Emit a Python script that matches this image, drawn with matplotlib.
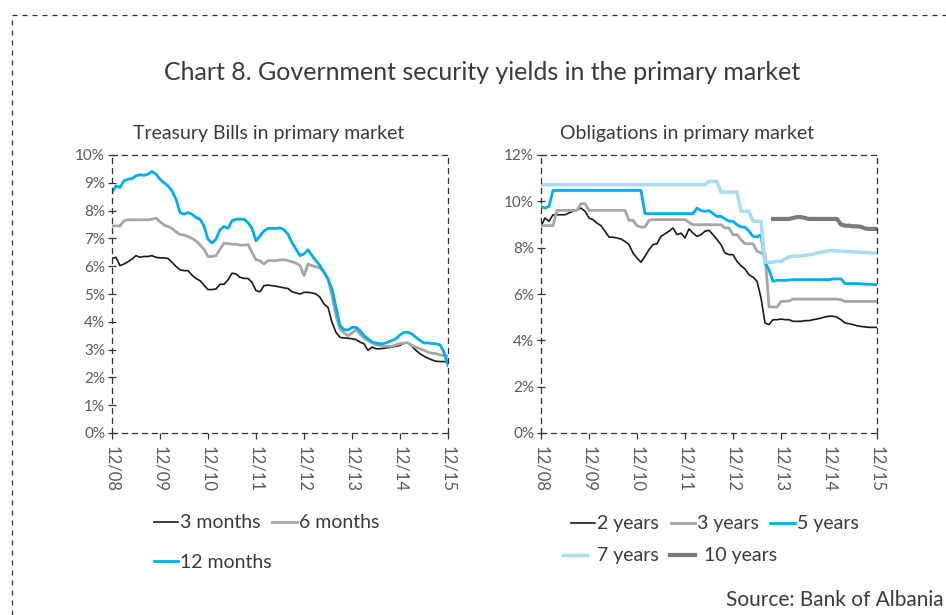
import numpy as np
import matplotlib
matplotlib.use("Agg")
import matplotlib.pyplot as plt
from matplotlib.lines import Line2D

plt.rcParams['font.family'] = ['Lato', 'DejaVu Sans']

# Monthly observations, Dec 2008 .. Dec 2015 (85 months)
tick_labels = ["12/08", "12/09", "12/10", "12/11", "12/12", "12/13", "12/14", "12/15"]

# Treasury bills (%)
tb_3m = [6.28, 6.32, 6.02, 6.08, 6.16, 6.26, 6.38, 6.32, 6.35, 6.35, 6.38, 6.32,
         6.30, 6.30, 6.28, 6.14, 5.99, 5.87, 5.84, 5.84, 5.68, 5.56, 5.48, 5.32,
         5.16, 5.16, 5.18, 5.35, 5.35, 5.51, 5.75, 5.72, 5.60, 5.56, 5.56, 5.42,
         5.12, 5.08, 5.30, 5.32, 5.30, 5.28, 5.25, 5.22, 5.20, 5.08, 5.04, 5.00,
         5.06, 5.06, 5.04, 5.00, 4.88, 4.64, 4.52, 3.98, 3.62, 3.44, 3.42, 3.41,
         3.39, 3.36, 3.27, 3.21, 2.97, 3.09, 3.03, 3.03, 3.05, 3.07, 3.09, 3.12,
         3.15, 3.24, 3.24, 3.12, 2.97, 2.85, 2.76, 2.69, 2.63, 2.58, 2.57, 2.57,
         2.57]
tb_6m = [7.45, 7.45, 7.45, 7.63, 7.67, 7.67, 7.67, 7.67, 7.67, 7.67, 7.69, 7.73,
         7.60, 7.48, 7.43, 7.36, 7.24, 7.14, 7.12, 7.07, 7.00, 6.91, 6.76, 6.61,
         6.35, 6.35, 6.38, 6.61, 6.83, 6.81, 6.79, 6.79, 6.76, 6.76, 6.78, 6.50,
         6.23, 6.20, 6.08, 6.20, 6.20, 6.20, 6.23, 6.23, 6.20, 6.16, 6.11, 6.02,
         5.66, 6.08, 6.02, 5.98, 5.94, 5.80, 5.54, 4.94, 4.22, 3.74, 3.60, 3.50,
         3.60, 3.72, 3.56, 3.41, 3.33, 3.24, 3.17, 3.15, 3.12, 3.12, 3.12, 3.17,
         3.21, 3.24, 3.24, 3.15, 3.09, 3.03, 2.97, 2.91, 2.87, 2.85, 2.81, 2.79,
         2.76]
tb_12m = [8.65, 8.89, 8.83, 9.07, 9.13, 9.15, 9.25, 9.29, 9.27, 9.31, 9.41, 9.31,
          9.13, 9.00, 8.89, 8.71, 8.41, 7.93, 7.87, 7.93, 7.87, 7.75, 7.69, 7.45,
          6.97, 6.83, 6.97, 7.31, 7.43, 7.36, 7.63, 7.69, 7.69, 7.69, 7.57, 7.36,
          6.91, 7.09, 7.27, 7.36, 7.36, 7.36, 7.38, 7.31, 7.15, 6.85, 6.61, 6.38,
          6.44, 6.59, 6.38, 6.20, 6.02, 5.78, 5.54, 5.18, 4.52, 3.86, 3.72, 3.70,
          3.80, 3.80, 3.68, 3.50, 3.39, 3.27, 3.24, 3.21, 3.22, 3.27, 3.33, 3.39,
          3.53, 3.62, 3.62, 3.56, 3.44, 3.33, 3.24, 3.24, 3.22, 3.21, 3.17, 2.91,
          2.43]

# Bonds (%)
nan = np.nan
ob_2y = [8.92, 9.28, 9.14, 9.42, 9.42, 9.42, 9.42, 9.50, 9.57, 9.64, 9.71, 9.57,
         9.28, 9.21, 9.06, 8.95, 8.71, 8.46, 8.45, 8.42, 8.37, 8.27, 8.13, 7.77,
         7.55, 7.37, 7.63, 7.91, 8.13, 8.17, 8.49, 8.60, 8.71, 8.85, 8.56, 8.63,
         8.42, 8.81, 8.63, 8.49, 8.56, 8.71, 8.75, 8.56, 8.35, 8.13, 7.77, 7.70,
         7.70, 7.41, 7.22, 7.08, 6.83, 6.73, 6.55, 5.83, 4.75, 4.68, 4.89, 4.89,
         4.92, 4.89, 4.89, 4.82, 4.82, 4.82, 4.85, 4.85, 4.89, 4.92, 4.96, 5.01,
         5.04, 5.04, 5.00, 4.89, 4.75, 4.72, 4.68, 4.63, 4.60, 4.58, 4.56, 4.56,
         4.56]
ob_3y = [8.95, 8.95, 8.95, 8.95, 9.61, 9.61, 9.61, 9.61, 9.61, 9.61, 9.90, 9.90,
         9.61, 9.61, 9.61, 9.61, 9.61, 9.61, 9.61, 9.61, 9.61, 9.61, 9.18, 9.18,
         8.95, 8.89, 8.89, 9.18, 9.21, 9.21, 9.21, 9.21, 9.21, 9.21, 9.21, 9.21,
         9.21, 9.09, 8.99, 8.99, 8.99, 8.99, 8.99, 8.99, 8.99, 8.99, 8.85, 8.85,
         8.56, 8.56, 8.35, 8.17, 8.17, 8.17, 7.85, 7.77, 7.77, 5.44, 5.44, 5.44,
         5.68, 5.68, 5.70, 5.78, 5.78, 5.78, 5.78, 5.78, 5.78, 5.78, 5.78, 5.78,
         5.78, 5.78, 5.78, 5.75, 5.68, 5.68, 5.68, 5.68, 5.68, 5.68, 5.68, 5.68,
         5.68]
ob_5y = [9.78, 9.71, 9.78, 10.47, 10.47, 10.47, 10.47, 10.47, 10.47, 10.47, 10.47, 10.47,
         10.47, 10.47, 10.47, 10.47, 10.47, 10.47, 10.47, 10.47, 10.47, 10.47, 10.47, 10.47,
         10.47, 10.47, 9.47, 9.47, 9.47, 9.47, 9.47, 9.47, 9.47, 9.47, 9.47, 9.47,
         9.47, 9.47, 9.47, 9.71, 9.60, 9.57, 9.60, 9.47, 9.35, 9.35, 9.24, 9.14,
         9.14, 8.99, 8.89, 8.89, 8.71, 8.49, 8.46, 8.56, 7.34, 7.05, 6.55, 6.59,
         6.59, 6.59, 6.60, 6.62, 6.62, 6.62, 6.62, 6.62, 6.62, 6.62, 6.62, 6.62,
         6.62, 6.65, 6.65, 6.65, 6.45, 6.45, 6.45, 6.45, 6.44, 6.43, 6.42, 6.41,
         6.40]
ob_7y = [10.72] * 42 + [10.86, 10.86, 10.86, 10.40, 10.40, 10.40, 10.40, 10.40,
         9.57, 9.57, 9.57, 9.14, 9.14, 9.14, 7.37, 7.37, 7.37, 7.41, 7.41, 7.50,
         7.60, 7.63, 7.63, 7.65, 7.66, 7.70, 7.72, 7.77, 7.80, 7.84, 7.87, 7.87,
         7.86, 7.85, 7.84, 7.83, 7.82, 7.81, 7.80, 7.79, 7.78, 7.77, 7.77]
ob_10y = [nan] * 58 + [9.24, 9.24, 9.24, 9.24, 9.24, 9.28, 9.32, 9.32, 9.28, 9.24,
          9.24, 9.24, 9.24, 9.24, 9.24, 9.24, 9.24, 9.00, 8.95, 8.95, 8.92, 8.92,
          8.90, 8.83, 8.81, 8.81, 8.81]

months = np.arange(len(tb_3m))

C_BLACK = "#1a1a1a"
C_GRAY = "#a6a6a6"
C_BLUE = "#00aeef"
C_LBLUE = "#a6dcf5"
C_DGRAY = "#7a7a7a"
TXT = "#3a3a3a"
TICK = "#595959"
W, H = 946, 615


def fx(px):
    return px / W


def fy(py):
    return 1 - py / H


fig = plt.figure(figsize=(W / 100, H / 100), dpi=100)

# dashed frame around the whole panel
frame_kw = dict(color="#333333", lw=0.9, ls=(0, (4, 4)), transform=fig.transFigure)
fig.add_artist(Line2D([fx(12), fx(12)], [0, fy(15)], **frame_kw))
fig.add_artist(Line2D([fx(12), 1.0], [fy(15), fy(15)], **frame_kw))

fig.text(fx(482), fy(72), "Chart 8. Government security yields in the primary market",
         ha="center", va="center", fontsize=18, color=TXT)
fig.text(fx(269), fy(133), "Treasury Bills in primary market",
         ha="center", va="center", fontsize=14, color=TXT)
fig.text(fx(687), fy(133), "Obligations in primary market",
         ha="center", va="center", fontsize=14, color=TXT)


def style_axes(ax, ymax, ystep):
    ax.set_xlim(0, 84)
    ax.set_ylim(0, ymax)
    ax.set_xticks(np.arange(0, 85, 12))
    ax.set_xticklabels(tick_labels, rotation=-90, fontsize=12, color=TICK)
    yt = np.arange(0, ymax + 0.01, ystep)
    ax.set_yticks(yt)
    ax.set_yticklabels([f"{int(v)}%" for v in yt], fontsize=11, color=TICK)
    for s in ax.spines.values():
        s.set_linestyle((0, (4, 4)))
        s.set_linewidth(0.9)
        s.set_color("#333333")
    ax.tick_params(axis="x", direction="out", length=4, width=0.9, color="#333333", pad=5)
    ax.tick_params(axis="y", direction="inout", length=6, width=0.9, color="#333333", pad=2)


def legend_row(handles, labels, x_px, y_px, textpad=0.1):
    fig.legend(handles, labels, ncol=len(handles), loc="center left",
               bbox_to_anchor=(fx(x_px), fy(y_px)), bbox_transform=fig.transFigure,
               frameon=False, fontsize=14, handlelength=1.25, handletextpad=textpad,
               columnspacing=0.6, borderpad=0, borderaxespad=0, labelcolor=TXT)


ax1 = fig.add_axes([fx(112), fy(433), fx(448) - fx(112), fy(155) - fy(433)])
l3, = ax1.plot(months, tb_3m, color=C_BLACK, lw=1.2)
l6, = ax1.plot(months, tb_6m, color=C_GRAY, lw=2.0)
l12, = ax1.plot(months, tb_12m, color=C_BLUE, lw=2.0)
style_axes(ax1, 10, 1)
legend_row([l3, l6], ["3 months", "6 months"], 154, 523)
legend_row([l12], ["12 months"], 154, 562)

ax2 = fig.add_axes([fx(541), fy(433), fx(877) - fx(541), fy(155) - fy(433)])
b2, = ax2.plot(months, ob_2y, color=C_BLACK, lw=1.2)
b3, = ax2.plot(months, ob_3y, color=C_GRAY, lw=2.0)
b5, = ax2.plot(months, ob_5y, color=C_BLUE, lw=2.0)
b7, = ax2.plot(months, ob_7y, color=C_LBLUE, lw=2.5)
b10, = ax2.plot(months, ob_10y, color=C_DGRAY, lw=3.0)
style_axes(ax2, 12, 2)
legend_row([b2, b3, b5], ["2 years", "3 years", "5 years"], 571, 524)
legend_row([b7, b10], ["7 years", "10 years"], 563, 556, textpad=0.5)

fig.text(fx(944), fy(600), "Source: Bank of Albania", ha="right", va="center",
         fontsize=15, color=TXT)

fig.savefig("out.png", dpi=100)
